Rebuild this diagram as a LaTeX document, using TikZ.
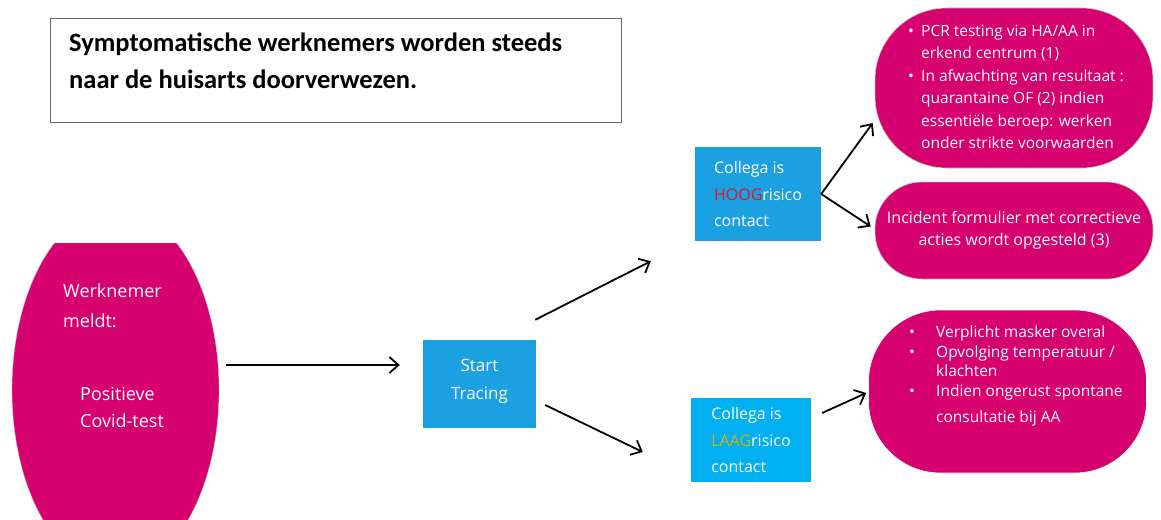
\documentclass[tikz,border=0pt]{standalone}
\usepackage{fontspec}
\setmainfont{Open Sans}
\newfontfamily\titelfont{Carlito}
\usepackage{xcolor}
\usetikzlibrary{arrows.meta, positioning, shapes.geometric}
\definecolor{roze}{RGB}{214,0,111}
\definecolor{blauw}{RGB}{27,161,226}
\definecolor{lichtblauw}{RGB}{0,176,240}
\definecolor{hoogrood}{RGB}{226,20,40}
\definecolor{laaggeel}{RGB}{204,178,20}
\tikzset{
	every node/.style={
		align=center,
	},
}
\tikzstyle{pijl} = [line width=1.8pt, -{Straight Barb[length=9pt,width=16pt]}]
\tikzstyle{blok} = [fill=blauw, text=white, inner sep=0pt, font=\fontsize{16}{26.5}\selectfont]
\tikzstyle{pil} = [fill=roze, draw=gray!50, line width=0.6pt, inner sep=0pt]
\tikzstyle{piltekst} = [text=white, inner sep=0pt, align=left, anchor=north west, font=\fontsize{15.5}{22.5}\selectfont]
\newcommand{\punt}[2][13pt]{\makebox[#1][l]{\textbullet}#2}

\begin{document}
\begin{tikzpicture}[x=1pt, y=-1pt]
        \useasboundingbox (0,0) rectangle (1161,519);
        \draw[gray!80!black, line width=0.8pt] (50,18) rectangle (621,122);
        \node[anchor=north west, inner sep=0pt, align=left, font=\titelfont\bfseries\fontsize{26.5}{37}\selectfont] (titel) at (69,33) {Symptomatische werknemers worden steeds\\naar de huisarts doorverwezen.};
        \begin{scope}
            \clip (0,243) rectangle (1161,519);
            \node[ellipse, fill=roze, draw=gray!50, minimum width=207pt, minimum height=364pt, inner sep=0pt] (werknemer) at (115.5,390) {};
        \end{scope}
        \node[anchor=north west, text=white, inner sep=0pt, align=left, font=\fontsize{18}{30}\selectfont] (meldtekst) at (63,284) {Werknemer\\meldt:\\[43pt]\hspace*{17pt}Positieve\\[-3pt]\hspace*{17pt}Covid-test};
        \node[blok, minimum width=113pt, minimum height=88pt, font=\fontsize{17}{28}\selectfont] (start) at (479.5,384) {Start\\Tracing\\[-18pt]};
        \node[blok, minimum width=126pt, minimum height=94pt, align=left] (hoog) at (758,194) {Collega is\\\textcolor{hoogrood}{HOOG}risico\\contact};
        \node[blok, fill=lichtblauw, minimum width=120pt, minimum height=84pt, align=left] (laag) at (751,440) {Collega is\\\textcolor{laaggeel}{LAAG}risico\\contact};
        \node[pil, rounded corners=72pt, minimum width=278pt, minimum height=160pt] (pcr) at (1014,88) {};
        \node[piltekst] (pcrtekst) at (908,24.5) {\punt{PCR testing via HA/AA in}\\\hspace*{13pt}erkend centrum (1)\\\punt{In afwachting van resultaat :}\\\hspace*{13pt}quarantaine OF (2) indien\\\hspace*{13pt}essentiële beroep: werken\\\hspace*{13pt}onder strikte voorwaarden};
        \node[pil, rounded corners=47pt, minimum width=278pt, minimum height=97pt, text=white, font=\fontsize{16}{22}\selectfont] (incident) at (1014,230.5) {Incident formulier met correctieve\\acties wordt opgesteld (3)};
        \node[pil, draw=white, rounded corners=72pt, minimum width=278pt, minimum height=163pt] (masker) at (1007.5,391.5) {};
        \node[piltekst, font=\fontsize{15.5}{19.7}\selectfont] (maskertekst) at (909,325.5) {\punt[27pt]{Verplicht masker overal}\\\punt[27pt]{Opvolging temperatuur /}\\\hspace*{27pt}klachten\\\punt[27pt]{Indien ongerust spontane}\\[6pt]\hspace*{27pt}consultatie bij AA};
        \draw[pijl] ([xshift=7pt, yshift=25pt]werknemer.east) -- ([xshift=-23pt, yshift=19pt]start.west);
        \draw[pijl] ([xshift=-1pt, yshift=20pt]start.north east) -- ([xshift=-44pt, yshift=-20pt]hoog.south west);
        \draw[pijl] ([xshift=9pt, yshift=-21pt]start.east) -- ([xshift=-48pt, yshift=-12pt]laag.west);
        \draw[pijl] (hoog.east) -- ([xshift=-2pt, yshift=-35pt]pcr.west);
        \draw[pijl] (hoog.east) -- ([xshift=-4pt, yshift=4pt]incident.west);
        \draw[pijl] ([xshift=11pt, yshift=27pt]laag.east) -- ([xshift=-2pt, yshift=-1.5pt]masker.west);
\end{tikzpicture}
\end{document}
